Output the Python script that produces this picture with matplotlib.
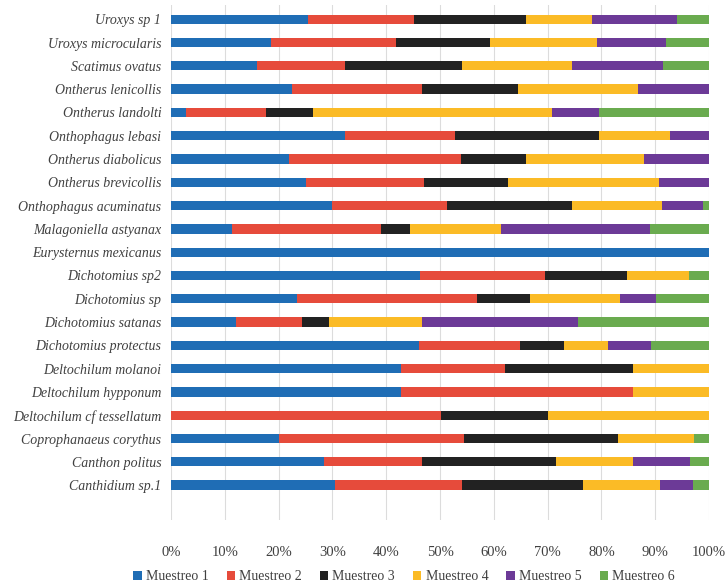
# 100% stacked bar chart: share of each sampling per species
import numpy as np
import matplotlib
matplotlib.use('Agg')
import matplotlib.pyplot as plt

# ---------------- data (percent) ----------------
species = ['Uroxys sp 1', 'Uroxys microcularis', 'Scatimus ovatus', 'Ontherus lenicollis',
           'Ontherus landolti', 'Onthophagus lebasi', 'Ontherus diabolicus',
           'Ontherus brevicollis', 'Onthophagus acuminatus', 'Malagoniella astyanax',
           'Eurysternus mexicanus', 'Dichotomius sp2', 'Dichotomius sp', 'Dichotomius satanas',
           'Dichotomius protectus', 'Deltochilum molanoi', 'Deltochilum hypponum',
           'Deltochilum cf tessellatum', 'Coprophanaeus corythus', 'Canthon politus',
           'Canthidium sp.1']

muestreo_1 = [25.5, 18.6, 16.0, 22.4, 2.8, 32.3, 21.9, 25.0, 30.0, 11.3, 100.0,
              46.2, 23.4, 12.1, 46.0, 42.8, 42.8, 0.0, 20.0, 28.5, 30.4]
muestreo_2 = [19.7, 23.2, 16.4, 24.3, 14.9, 20.4, 32.0, 22.0, 21.3, 27.7, 0.0,
              23.3, 33.5, 12.2, 18.9, 19.2, 43.0, 50.2, 34.4, 18.1, 23.7]
muestreo_3 = [20.7, 17.5, 21.6, 17.8, 8.7, 26.9, 12.1, 15.6, 23.2, 5.5, 0.0,
              15.2, 9.9, 5.0, 8.2, 23.8, 0.0, 19.9, 28.6, 24.9, 22.5]
muestreo_4 = [12.4, 19.8, 20.5, 22.3, 44.4, 13.1, 21.9, 28.1, 16.8, 16.8, 0.0,
              11.6, 16.6, 17.3, 8.1, 14.2, 14.2, 29.9, 14.2, 14.3, 14.2]
muestreo_5 = [15.7, 12.9, 17.0, 13.2, 8.7, 7.3, 12.1, 9.3, 7.6, 27.7, 0.0,
              0.0, 6.7, 29.1, 8.0, 0.0, 0.0, 0.0, 0.0, 10.6, 6.2]
muestreo_6 = [6.0, 8.0, 8.5, 0.0, 20.5, 0.0, 0.0, 0.0, 1.1, 11.0, 0.0,
              3.7, 9.9, 24.3, 10.8, 0.0, 0.0, 0.0, 2.8, 3.6, 3.0]

series = ['Muestreo 1', 'Muestreo 2', 'Muestreo 3', 'Muestreo 4', 'Muestreo 5', 'Muestreo 6']
colors = ['#1f6db5', '#e64b3b', '#222222', '#fbbb26', '#6c3a97', '#6aab4f']

# ---------------- plot ----------------
values = np.array([muestreo_1, muestreo_2, muestreo_3, muestreo_4, muestreo_5, muestreo_6])
values = values / values.sum(axis=0) * 100

fig = plt.figure(figsize=(7.28, 5.83), dpi=100)
ax = fig.add_axes([0.235, 0.108, 0.739, 0.883])

y = np.arange(len(species))
left = np.zeros(len(species))
for vals, name, col in zip(values, series, colors):
    ax.barh(y, vals, left=left, height=0.4, color=col, label=name, zorder=3)
    left += vals

ax.set_xlim(0, 100)
ax.set_ylim(21.5, -0.6)
ax.set_yticks(y)
ax.set_yticklabels(species, fontfamily='Liberation Serif', fontstyle='italic',
                   fontsize=10, color='#404040')
ax.set_xticks(np.arange(0, 101, 10))
ax.set_xticklabels([f'{v}%' for v in range(0, 101, 10)],
                   fontfamily='Liberation Serif', fontsize=10.5, color='#404040')
ax.tick_params(length=0, pad=7)
ax.tick_params(axis='x', pad=19)
ax.grid(axis='x', color='#dcdcdc', linewidth=0.8, zorder=0)
for s in ax.spines.values():
    s.set_visible(False)

leg = fig.legend(loc='lower center', bbox_to_anchor=(0.555, -0.022), ncol=6,
                 frameon=False, handlelength=0.6, handleheight=0.6, handletextpad=0.3,
                 columnspacing=1.3, prop={'family': 'Liberation Serif', 'size': 10})
for t in leg.get_texts():
    t.set_color('#404040')

fig.savefig('out.png', dpi=100)
